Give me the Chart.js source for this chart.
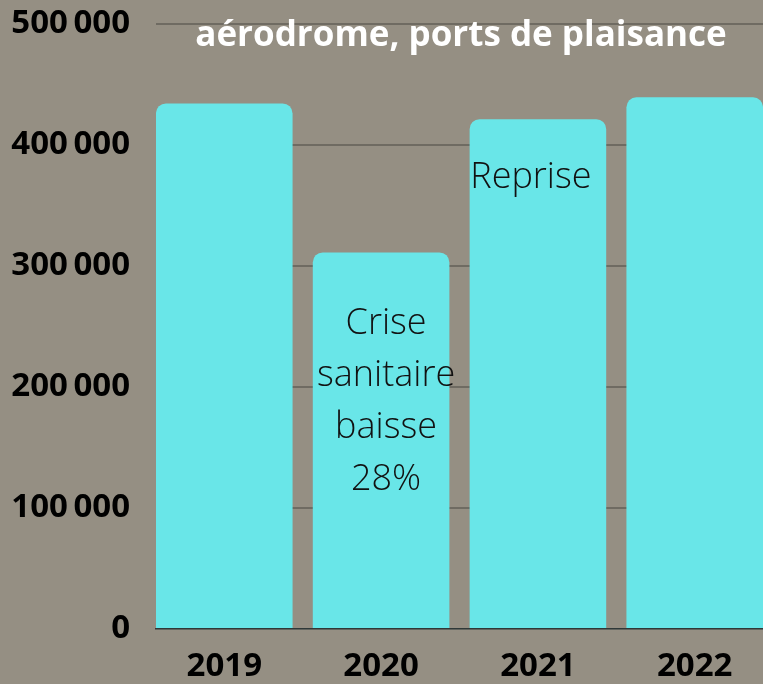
<!DOCTYPE html>
<html>
<head>
<meta charset="utf-8">
<script src="https://cdn.jsdelivr.net/npm/chart.js@4/dist/chart.umd.min.js"></script>
<style>
  html, body { margin: 0; padding: 0; background: #958F83; overflow: hidden; }
  #wrap { position: relative; width: 763px; height: 684px; }
</style>
</head>
<body>
<div id="wrap"><canvas id="c" width="763" height="684"></canvas></div>
<script>
// ---- data ----
const categories = ['2019', '2020', '2021', '2022'];
const passengers = [434000, 311000, 421000, 439000];
const yTicks = [0, 100000, 200000, 300000, 400000, 500000];
const titleLines = ['aérodrome, ports de plaisance'];
const noteCrise = ['Crise', 'sanitaire', 'baisse', '28%'];
const noteReprise = ['Reprise'];

const BG = '#958F83';
const BAR = '#69E6E8';

const fmt = v => v === 0 ? '0' : String(v).replace(/\B(?=(\d{3})+(?!\d))/g, '\u2009');

const overlay = {
  id: 'overlay',
  afterDraw(chart) {
    const ctx = chart.ctx;
    const x = chart.scales.x, y = chart.scales.y;
    ctx.save();
    // annotations
    ctx.fillStyle = '#111';
    ctx.textAlign = 'center';
    ctx.textBaseline = 'middle';
    ctx.font = '300 36px "Open Sans"';
    const cx1 = x.getPixelForValue(1);
    const y0 = y.getPixelForValue(252000);
    noteCrise.forEach((t, i) => ctx.fillText(t, cx1 + 5, y0 + i * 52));
    const cx2 = x.getPixelForValue(2);
    const y1 = y.getPixelForValue(373000);
    noteReprise.forEach((t, i) => ctx.fillText(t, cx2 - 7, y1 + i * 52));
    // title
    ctx.fillStyle = '#ffffff';
    ctx.font = 'bold 35px "Open Sans"';
    ctx.textBaseline = 'alphabetic';
    titleLines.forEach((t, i) => ctx.fillText(t, 461, 46 + i * 40));
    ctx.restore();
  }
};

new Chart(document.getElementById('c'), {
  type: 'bar',
  data: {
    datasets: [{
      data: categories.map((c, i) => ({ x: i, y: passengers[i] })),
      backgroundColor: BAR,
      borderWidth: 0,
      borderRadius: 10,
      borderSkipped: 'start',
      categoryPercentage: 1,
      barPercentage: 0.871
    }]
  },
  options: {
    responsive: false,
    animation: false,
    events: [],
    layout: { padding: { top: 23.5, left: 0, right: 0, bottom: 0 } },
    plugins: { legend: { display: false }, tooltip: { enabled: false }, title: { display: false } },
    scales: {
      x: {
        type: 'linear',
        min: -0.4354,
        max: 3.4354,
        offset: false,
        grid: { display: false, drawTicks: false },
        border: { display: true, color: '#2F3838', width: 1.5 },
        afterBuildTicks: s => { s.ticks = categories.map((c, i) => ({ value: i })); },
        afterFit: s => { s.height = 55; s.paddingLeft = 0; s.paddingRight = 0; },
        ticks: {
          autoSkip: false, maxRotation: 0, padding: 21,
          color: '#000',
          font: { family: 'Open Sans', weight: 'bold', size: 33, lineHeight: 1 },
          callback: v => categories[v]
        }
      },
      y: {
        min: 0,
        max: 500000,
        afterBuildTicks: s => { s.ticks = yTicks.map(v => ({ value: v })); },
        afterFit: s => { s.width = 156; s.paddingTop = 0; s.paddingBottom = 0; },
        grid: {
          drawTicks: false,
          lineWidth: 2,
          color: c => c.tick && c.tick.value === 0 ? 'rgba(0,0,0,0)' : '#6F6B62'
        },
        border: { display: false },
        ticks: {
          padding: 26,
          color: '#000',
          font: { family: 'Open Sans', weight: 'bold', size: 33, lineHeight: 1.2 },
          callback: v => fmt(v)
        }
      }
    }
  },
  plugins: [overlay]
});
</script>
</body>
</html>
